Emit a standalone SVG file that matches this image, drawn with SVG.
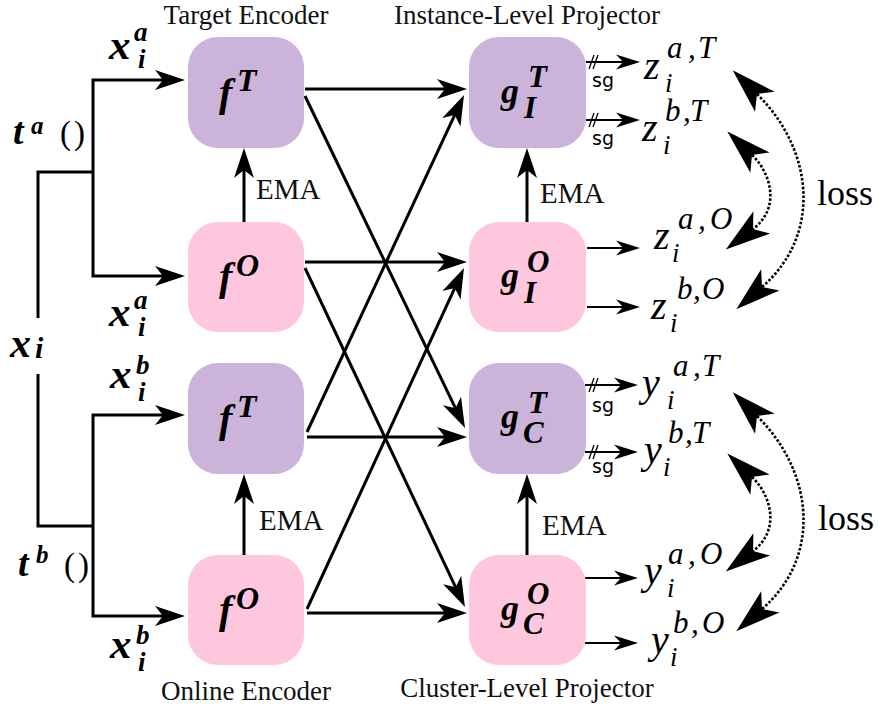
<svg xmlns="http://www.w3.org/2000/svg" width="878" height="711" viewBox="0 0 878 711">
<style>
.tgt{fill:#CBB3DA}
.onl{fill:#FFC7DD}
.lbl{font-family:'Liberation Serif','Times New Roman','DejaVu Serif',serif;font-size:27px;fill:#111}
.ema{font-family:'Liberation Serif','Times New Roman','DejaVu Serif',serif;font-size:29px;fill:#111}
.bm{font-family:'Liberation Serif','Times New Roman','DejaVu Serif',serif;font-weight:bold;font-style:italic;fill:#000}
.m{font-family:'Liberation Serif','Times New Roman','DejaVu Serif',serif;font-style:italic;fill:#000}
.up{font-family:'Liberation Serif','Times New Roman','DejaVu Serif',serif;fill:#000}
.sg{font-family:'DejaVu Sans',sans-serif;font-size:19px;fill:#000}
.thick{fill:none;stroke:#000;stroke-width:3;marker-end:url(#ah)}
.thin{fill:none;stroke:#000;stroke-width:2;marker-end:url(#as)}
.slash{fill:none;stroke:#000;stroke-width:1.3}
.loss{fill:none;stroke:#000;stroke-width:2.6;stroke-dasharray:2.6 1.8;marker-start:url(#al);marker-end:url(#al)}
</style>
<defs>
<marker id="ah" markerUnits="userSpaceOnUse" markerWidth="30" markerHeight="20" refX="24" refY="10" orient="auto-start-reverse" overflow="visible"><path d="M0,0 L30,10 L0,20 L8,10 Z" fill="#000"/></marker>
<marker id="as" markerUnits="userSpaceOnUse" markerWidth="24" markerHeight="15" refX="20" refY="7.5" orient="auto-start-reverse" overflow="visible"><path d="M0,0 L24,7.5 L0,15 L7,7.5 Z" fill="#000"/></marker>
<marker id="al" markerUnits="userSpaceOnUse" markerWidth="45" markerHeight="28" refX="11" refY="14" orient="auto-start-reverse" overflow="visible"><path d="M0,0 L45,14 L0,28 L11,14 Z" fill="#000"/></marker>
<g id="lossArrows">
<path class="loss" d="M757,94 C814,150 822,235 762,287"/>
<path class="loss" d="M752,155 C771,173 781,208 753,229"/>
</g>
</defs>

<g id="connectors">
<path d="M38,318 L38,172 L93,172" fill="none" stroke="#000" stroke-width="3"/>
<path d="M38,374 L38,526 L93,526" fill="none" stroke="#000" stroke-width="3"/>
<path class="thick" d="M179,80 L93,80 L93,276 L179,276" style="marker-start:url(#ah)"/>
<path class="thick" d="M179,415 L93,415 L93,616 L179,616" style="marker-start:url(#ah)"/>
<path class="thick" d="M244,222 L244,154"/>
<path class="thick" d="M244,555 L244,480"/>
<path class="thick" d="M527,222 L527,154"/>
<path class="thick" d="M527,555 L527,480"/>
<path class="thick" d="M305,89 L461,89"/>
<path class="thick" d="M305,262 L461,262"/>
<path class="thick" d="M307,437 L461,437"/>
<path class="thick" d="M307,613 L461,613"/>
<path class="thick" d="M305,96 L462.4,422.6"/>
<path class="thick" d="M305,268 L462.4,601.6"/>
<path class="thick" d="M307,432 L461.5,100.4"/>
<path class="thick" d="M307,609 L461.5,273.4"/>
<path class="thin" d="M586,62 L636,62"/>
<path class="thin" d="M586,120 L636,120"/>
<path class="thin" d="M587,248 L636,248"/>
<path class="thin" d="M587,307 L636,307"/>
<path class="thin" d="M585,385 L634,385"/>
<path class="thin" d="M585,452 L634,452"/>
<path class="thin" d="M585,578 L634,578"/>
<path class="thin" d="M585,643 L634,643"/>
<path class="slash" d="M589,69 L594,55 M593,69 L598,55"/>
<path class="slash" d="M589,127 L594,113 M593,127 L598,113"/>
<path class="slash" d="M589,392 L594,378 M593,392 L598,378"/>
<path class="slash" d="M589,459 L594,445 M593,459 L598,445"/>
<use href="#lossArrows"/>
<use href="#lossArrows" transform="translate(0,322)"/>
</g>

<g id="fT1">
<rect class="tgt" x="188" y="37" width="116" height="111" rx="30"/>
<text class="bm" x="219" y="106" font-size="40">f</text>
<text class="bm" x="237" y="91" font-size="32">T</text>
</g>
<g id="fO1">
<rect class="onl" x="188" y="222" width="116" height="110" rx="30"/>
<text class="bm" x="219" y="290" font-size="40">f</text>
<text class="bm" x="236" y="276" font-size="32">O</text>
</g>
<g id="fT2">
<rect class="tgt" x="188" y="363" width="116" height="111" rx="30"/>
<text class="bm" x="219" y="432" font-size="40">f</text>
<text class="bm" x="237" y="417" font-size="32">T</text>
</g>
<g id="fO2">
<rect class="onl" x="188" y="555" width="116" height="110" rx="30"/>
<text class="bm" x="219" y="623" font-size="40">f</text>
<text class="bm" x="236" y="609" font-size="32">O</text>
</g>
<g id="gIT">
<rect class="tgt" x="469" y="37" width="117" height="111" rx="30"/>
<text class="bm" x="501" y="103" font-size="36">g</text>
<text class="bm" x="528" y="87" font-size="31">T</text>
<text class="bm" x="524" y="118" font-size="31">I</text>
</g>
<g id="gIO">
<rect class="onl" x="469" y="222" width="117" height="110" rx="30"/>
<text class="bm" x="501" y="287" font-size="36">g</text>
<text class="bm" x="527" y="272" font-size="31">O</text>
<text class="bm" x="524" y="303" font-size="31">I</text>
</g>
<g id="gCT">
<rect class="tgt" x="469" y="363" width="117" height="111" rx="30"/>
<text class="bm" x="501" y="428" font-size="36">g</text>
<text class="bm" x="528" y="413" font-size="31">T</text>
<text class="bm" x="523" y="443" font-size="31">C</text>
</g>
<g id="gCO">
<rect class="onl" x="469" y="555" width="117" height="110" rx="30"/>
<text class="bm" x="501" y="620" font-size="36">g</text>
<text class="bm" x="527" y="604" font-size="31">O</text>
<text class="bm" x="523" y="634" font-size="31">C</text>
</g>

<g id="labels">
<text class="lbl" x="246" y="24" text-anchor="middle">Target Encoder</text>
<text class="lbl" x="527" y="24" text-anchor="middle">Instance-Level Projector</text>
<text class="lbl" x="246" y="700" text-anchor="middle">Online Encoder</text>
<text class="lbl" x="527" y="697" text-anchor="middle">Cluster-Level Projector</text>
<text class="ema" x="256" y="199">EMA</text>
<text class="ema" x="259" y="530">EMA</text>
<text class="ema" x="540" y="203">EMA</text>
<text class="ema" x="542" y="535">EMA</text>
<text class="up" x="817" y="205" font-size="36">loss</text>
<text class="up" x="818" y="530" font-size="36">loss</text>

<text class="bm" x="109" y="59" font-size="43">x</text>
<text class="bm" x="134" y="41" font-size="27">a</text>
<text class="bm" x="138" y="68" font-size="27">i</text>
<text class="bm" x="109" y="326" font-size="43">x</text>
<text class="bm" x="134" y="309" font-size="27">a</text>
<text class="bm" x="138" y="336" font-size="27">i</text>
<text class="bm" x="110" y="388" font-size="43">x</text>
<text class="bm" x="136" y="374" font-size="27">b</text>
<text class="bm" x="138" y="401" font-size="27">i</text>
<text class="bm" x="110" y="658" font-size="43">x</text>
<text class="bm" x="136" y="644" font-size="27">b</text>
<text class="bm" x="138" y="671" font-size="27">i</text>
<text class="bm" x="13" y="144" font-size="38">t</text>
<text class="bm" x="31" y="134" font-size="25">a</text>
<text class="up" x="60 74" y="144" font-size="33">()</text>
<text class="bm" x="18" y="576" font-size="38">t</text>
<text class="bm" x="36" y="563" font-size="25">b</text>
<text class="up" x="64 78" y="576" font-size="33">()</text>
<text class="bm" x="10" y="357" font-size="42">x</text>
<text class="bm" x="35" y="358" font-size="30">i</text>

<text class="sg" x="592" y="87">sg</text>
<text class="sg" x="592" y="145">sg</text>
<text class="sg" x="592" y="412">sg</text>
<text class="sg" x="592" y="473">sg</text>

<text class="m" x="644" y="79" font-size="40">z</text>
<text class="m" x="667 688 698" y="58" font-size="31">a,T</text>
<text class="m" x="665" y="92" font-size="27">i</text>
<text class="m" x="642" y="141" font-size="40">z</text>
<text class="m" x="665 683 690" y="121" font-size="31">b,T</text>
<text class="m" x="663" y="154" font-size="27">i</text>
<text class="m" x="654" y="249" font-size="40">z</text>
<text class="m" x="678 698 710" y="229" font-size="31">a,O</text>
<text class="m" x="672" y="262" font-size="27">i</text>
<text class="m" x="651" y="319" font-size="40">z</text>
<text class="m" x="677 693 702" y="299" font-size="31">b,O</text>
<text class="m" x="670" y="332" font-size="27">i</text>

<text class="m" x="642" y="396" font-size="40">y</text>
<text class="m" x="673 693 702" y="376" font-size="31">a,T</text>
<text class="m" x="667" y="409" font-size="27">i</text>
<text class="m" x="644" y="463" font-size="40">y</text>
<text class="m" x="668 685 692" y="443" font-size="31">b,T</text>
<text class="m" x="663" y="476" font-size="27">i</text>
<text class="m" x="644" y="584" font-size="40">y</text>
<text class="m" x="668 688 700" y="564" font-size="31">a,O</text>
<text class="m" x="667" y="597" font-size="27">i</text>
<text class="m" x="651" y="653" font-size="40">y</text>
<text class="m" x="673 691 702" y="633" font-size="31">b,O</text>
<text class="m" x="670" y="666" font-size="27">i</text>
</g>
</svg>
